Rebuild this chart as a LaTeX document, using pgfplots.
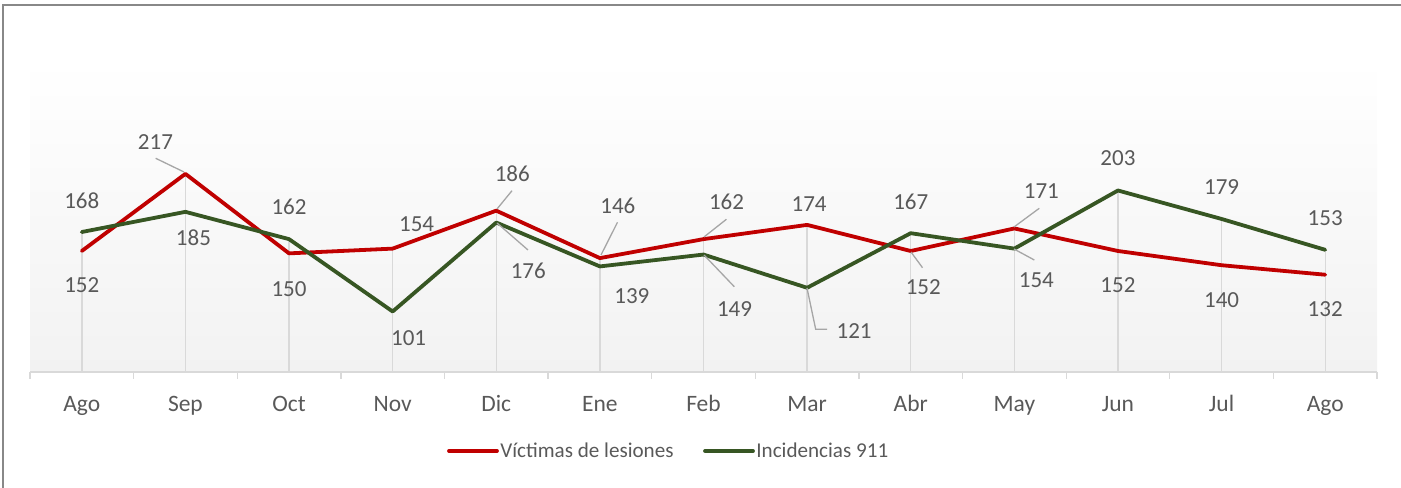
\documentclass[border=0pt]{standalone}
\usepackage{pgfplots}
\pgfplotsset{compat=1.18}
\usepackage{pgfplotstable}
\usepackage{fontspec}
\setmainfont{Carlito}
\definecolor{redline}{HTML}{C00000}
\definecolor{greenline}{HTML}{375623}
\definecolor{labelgray}{HTML}{595959}
\definecolor{axisgray}{HTML}{D9D9D9}
\definecolor{leadergray}{HTML}{A6A6A6}
\definecolor{bordergray}{HTML}{888888}
\definecolor{bgbottom}{HTML}{F2F2F2}

\pgfplotstableread{
x y dx dy
0 152 0 34
1 217 -30 -32
2 150 0 35.6
3 154 24 -24
4 186 16 -37
5 146 18 -52
6 162 23 -37
7 174 2 -21
8 152 12.5 36
9 171 27 -37.6
10 152 0 34.3
11 140 0 35
12 132 0 34.7
}\redtab

\pgfplotstableread{
x y dx dy
0 168 0 -31.7
1 185 8 26
2 162 0 -32
3 101 16 27
4 176 32 48
5 139 32 30
6 149 31 54
7 121 47 43
8 167 0 -31
9 154 22 32
10 203 0 -32.3
11 179 0 -31.7
12 153 0 -32
}\greentab

\begin{document}
\begin{tikzpicture}
\path[use as bounding box] (0,0) rectangle (1401bp,488bp);
\draw[bordergray, line width=2bp] (3bp,0) -- (3bp,482.5bp) -- (1401bp,482.5bp);
\begin{axis}[
  at={(30bp,116bp)}, anchor=south west,
  width=1347bp, height=312bp, scale only axis,
  xmin=-0.5, xmax=12.5, ymin=50, ymax=313,
  axis x line*=bottom, axis y line=none,
  axis line style={draw=axisgray, line width=1.3bp},
  axis background/.style={shade, top color=white, bottom color=bgbottom},
  xtick={0,...,12},
  xticklabels={Ago,Sep,Oct,Nov,Dic,Ene,Feb,Mar,Abr,May,Jun,Jul,Ago},
  minor xtick={-0.5,0.5,...,12.5},
  major tick length=0pt, minor tick length=7bp,
  tick align=outside,
  minor tick style={draw=axisgray, line width=1.3bp},
  major tick style={draw=none},
  xticklabel style={anchor=base, yshift=-39.5bp, text=labelgray, font=\fontsize{23.5bp}{28bp}\selectfont},
  /pgf/number format/assume math mode=true,
  clip mode=individual,
  legend columns=2,
  legend style={at={(axis description cs:0.3095,-0.253)}, anchor=west, draw=none, fill=none,
    inner sep=0pt, font=\fontsize{21.1bp}{25bp}\selectfont, text=labelgray,
    nodes={inner sep=1.5bp},
    /tikz/every even column/.append style={column sep=28bp}},
  legend image code/.code={\draw[#1] (0bp,0bp) -- (48bp,0bp);},
  visualization depends on={\thisrow{dx} \as \mydx},
  visualization depends on={\thisrow{dy} \as \mydy},
  nodes near coords style={anchor=center, xshift=\mydx bp, yshift=-\mydy bp, text=labelgray, font=\fontsize{23bp}{28bp}\selectfont},
]
\addplot[ycomb, draw=axisgray, line width=1.4bp, no marks, forget plot] table[x=x,y=y] {\redtab};
\addplot[ycomb, draw=axisgray, line width=1.4bp, no marks, forget plot] table[x=x,y=y] {\greentab};
\addplot[draw=redline, line width=3.8bp, no marks, line cap=round, line join=round, nodes near coords] table[x=x,y=y] {\redtab};
\addlegendentry{Víctimas de lesiones}
\addplot[draw=greenline, line width=3.8bp, no marks, line cap=round, line join=round, nodes near coords] table[x=x,y=y] {\greentab};
\addlegendentry{Incidencias 911}
\end{axis}
\begin{scope}[leadergray, line width=1.3bp, x=1bp, y=-1bp, shift={(0,488bp)}]
\draw (155.7,158.3) -- (184,172);
\draw (512,190.7) -- (497,209);
\draw (497,223) -- (528,250);
\draw (617.5,222.3) -- (601,255);
\draw (726.4,219.3) -- (704,237);
\draw (704,255) -- (734.3,286.7);
\draw (807,288) -- (815.7,329.3) -- (827,329.3);
\draw (911,252) -- (922.5,267.7);
\draw (1039.3,208.3) -- (1014,227);
\draw (1014,249) -- (1034.3,260);
\end{scope}
\end{tikzpicture}
\end{document}
